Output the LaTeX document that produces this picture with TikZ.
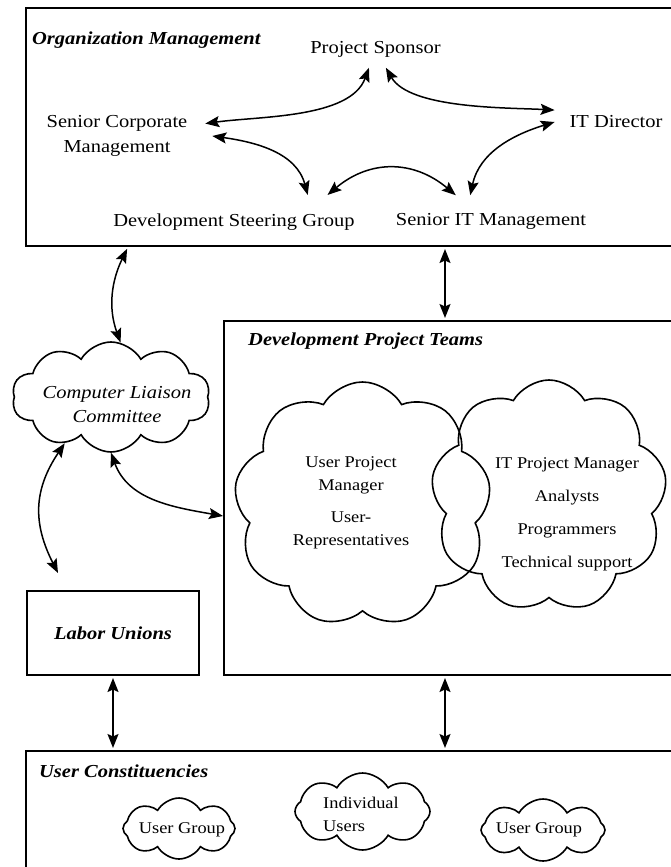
\documentclass[tikz,border=0pt]{standalone}
\usepackage{fontspec}
\setmainfont{Liberation Serif}[FakeStretch=1.12]
\usetikzlibrary{arrows.meta,shapes.symbols}

\begin{document}
\begin{tikzpicture}[x=1pt,y=-1pt,
    font=\fontsize{18.3}{23}\selectfont,
    panel/.style={draw,line width=2pt,rectangle,anchor=north west,inner sep=0pt},
    heading/.style={font=\fontsize{18.3}{23}\selectfont\bfseries\itshape,anchor=west,inner sep=0pt},
    actor/.style={align=center,inner sep=2pt,outer sep=#1},
    actor/.default=8pt,
    member/.style={font=\fontsize{16.4}{#1}\selectfont},
    member/.default=20pt,
    puff/.style={draw,line width=1.6pt,cloud,cloud puffs=#1,cloud puff arc=120,cloud ignores aspect,inner sep=0pt},
    link/.style={line width=1.5pt,{Stealth[length=14pt,width=11pt,inset=2.5pt]}-{Stealth[length=14pt,width=11pt,inset=2.5pt]}}]

    \useasboundingbox (0,0) rectangle (671,867);
    \clip (0,0) rectangle (671,867);

    \node[panel,minimum width=680pt,minimum height=238pt] (org) at (25,7) {};
    \node[panel,minimum width=480pt,minimum height=354pt] (dpt) at (223,320) {};
    \node[panel,minimum width=172pt,minimum height=84pt,font=\fontsize{18.3}{23}\selectfont\bfseries\itshape] (labor) at (26,590) {Labor Unions};
    \node[panel,minimum width=680pt,minimum height=150pt] (uc) at (25,750) {};
    \coordinate (spine) at (445,0);

    \node[heading] (orgtitle) at (32,40) {Organization Management};
    \node[heading] (dpttitle) at (248,341) {Development Project Teams};
    \node[heading] (uctitle) at (39,771) {User Constituencies};

    \node[actor] (sponsor) at (375.5,49.75) {Project Sponsor};
    \node[actor=16pt] (corp) at (117,136) {Senior Corporate\\[2pt]Management};
    \node[actor=13pt] (itdir) at (616,122) {IT Director};
    \node[actor=16.5pt] (steering) at (234,221.75) {Development Steering Group};
    \node[actor=16.5pt] (itmgmt) at (491,221.75) {Senior IT Management};

    \node[puff=10,minimum width=198pt,minimum height=110pt] (clc) at (111,397) {};
    \node[align=center,font=\fontsize{18.3}{24}\selectfont\itshape] (clctext) at (117,405) {Computer Liaison\\Committee};

    \node[puff=9,minimum width=257pt,minimum height=245pt] (usercloud) at (362.5,504.5) {};
    \node[puff=9,minimum width=236pt,minimum height=232pt] (itcloud) at (549,496) {};
    \node[member=22.5pt,align=center] (usertext) at (351,503) {User Project\\Manager\\[10pt]User-\\Representatives};
    \node[member,align=center] (ittext) at (567,514) {IT Project Manager\\[13pt]Analysts\\[13pt]Programmers\\[13pt]Technical support};

    \node[puff=8,minimum width=112pt,minimum height=61pt] (groupa) at (179,828.5) {};
    \node[puff=8,minimum width=135pt,minimum height=77pt] (individuals) at (362.5,811.5) {};
    \node[puff=8,minimum width=124pt,minimum height=62pt] (groupb) at (543,830) {};
    \node[member] (groupatext) at (182,830) {User Group};
    \node[member=23pt,anchor=west,align=left,inner sep=0pt] (individualstext) at (323,814) {Individual\\Users};
    \node[member] (groupbtext) at (539,830) {User Group};

    \draw[link] (sponsor.250) to[out=250,in=8,looseness=0.8] (corp.8);
    \draw[link] (sponsor.300) to[out=300,in=177,looseness=0.7] (itdir.169);
    \draw[link] ([xshift=7pt]corp.east) to[out=352,in=105] (steering.20);
    \draw[link] (steering.16) to[out=40,in=140,looseness=1.1] (itmgmt.143);
    \draw[link] (itdir.west) to[out=197,in=78] (itmgmt.128);

    \draw[link,shorten <=2pt] ([xshift=17pt]clc.north |- org.south) to[out=244,in=110] (clc.80);
    \draw[link,shorten <=2pt,shorten >=2pt] (org.south -| spine) -- (dpt.north -| spine);
    \draw[link] (clc.225) to[out=236,in=117,looseness=1.1] ([xshift=32pt,yshift=17pt]labor.north west);
    \draw[link] (clc.south) to[out=290,in=170] ([yshift=-18pt]dpt.west);
    \draw[link,shorten <=2pt,shorten >=2pt] (labor.south) -- (labor.south |- uc.north);
    \draw[link,shorten <=2pt,shorten >=2pt] (dpt.south -| spine) -- (uc.north -| spine);

\end{tikzpicture}
\end{document}
